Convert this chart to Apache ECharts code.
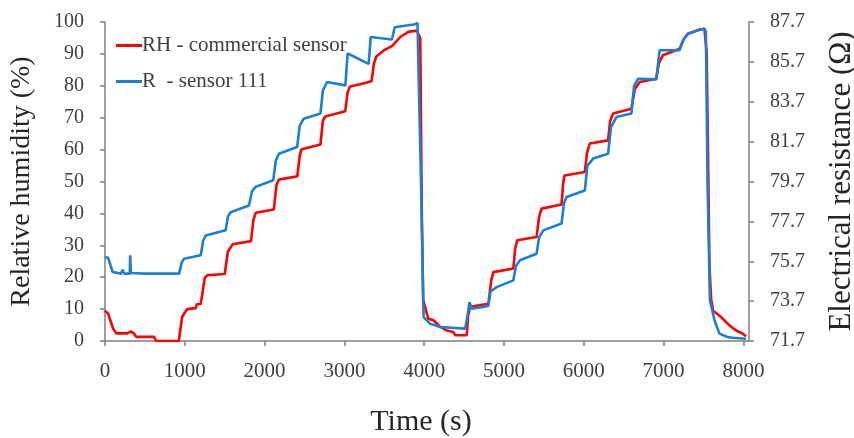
<!DOCTYPE html>
<html>
<head>
<meta charset="utf-8">
<script src="https://cdn.jsdelivr.net/npm/echarts@6/dist/echarts.min.js"></script>
<style>
  html, body { margin: 0; padding: 0; background: #fff; }
  #chart { width: 854px; height: 438px; }
</style>
</head>
<body>
<div id="chart"></div>
<script>
// time (s), relative humidity (%)
var rhTime = [0, 40, 100, 140, 280, 300, 325, 360, 390, 615, 640, 925, 966, 1030, 1138, 1150, 1200, 1250, 1280, 1500,
  1540, 1600, 1830, 1860, 1890, 2115, 2150, 2180, 2410, 2440, 2460, 2600, 2700, 2730, 2760, 3010, 3040, 3070, 3200, 3340,
  3370, 3400, 3500, 3600, 3700, 3800, 3908, 3950, 3970, 3987, 4050, 4117, 4200, 4283, 4367, 4390, 4533,
  4550, 4575, 4804, 4840, 4867, 5117, 5140, 5167, 5408, 5440, 5471, 5721, 5740, 5758, 6013, 6040, 6075, 6304,
  6330, 6367, 6596, 6640, 6700, 6908, 6940, 6992, 7200, 7250, 7304, 7450, 7512, 7540, 7575, 7596, 7621, 7721,
  7825, 7908, 7992, 8033];
var rhValue = [9.5, 8.5, 4, 2.4, 2.4, 2.0, 3.0, 2.4, 1.3, 1.3, 0, 0, 7.5, 10, 10.3, 11.5, 11.6, 19.8, 20.6, 21.0,
  28, 30.3, 31.3, 38, 40.2, 41.2, 49, 50.6, 51.6, 58, 60.0, 61.0, 61.6, 69, 70.4, 72, 78, 79.8, 80.5, 81.4,
  87, 89.2, 91.2, 92.5, 95.3, 96.9, 97.3, 95, 40, 13, 7, 6.5, 4.4, 3.3, 2.8, 1.8, 1.8,
  8, 10.7, 11.7, 19, 21.6, 22.7, 29, 31.6, 32.6, 39, 41.5, 42.8, 49, 51.9, 53.0, 59, 61.9, 62.9,
  69, 71.3, 72.8, 79, 81.2, 82.2, 87, 89.6, 91.6, 94.5, 96.3, 97.6, 97.9, 90, 23.5, 12.9, 9.5, 7.5,
  4.9, 3.3, 2.3, 1.5];

// time (s), electrical resistance (ohm) of sensor 111
var rTime = [0, 40, 96, 200, 221, 240, 310, 316, 324, 500, 929, 960, 991, 1200, 1230, 1263, 1512, 1540, 1575, 1804,
  1840, 1887, 2108, 2140, 2179, 2408, 2440, 2491, 2700, 2730, 2783, 3012, 3040, 3050, 3304, 3330, 3596, 3630, 3888, 3916,
  3930, 3960, 3992, 4075, 4200, 4513, 4540, 4567, 4596, 4804, 4830, 4908, 5117, 5150, 5200, 5408, 5440, 5492, 5721,
  5750, 5783, 6013, 6045, 6117, 6304, 6340, 6408, 6596, 6630, 6679, 6908, 6940, 6950, 7200, 7250, 7304, 7450, 7512,
  7530, 7550, 7580, 7637, 7700, 7800, 7867, 8033];
var rValue = [75.91, 75.86, 75.16, 75.08, 75.27, 75.08, 75.08, 76.0, 75.11, 75.08, 75.08, 75.62, 75.83, 76.0, 76.74, 76.99, 77.25, 77.94, 78.16, 78.5,
  79.19, 79.43, 79.76, 80.74, 81.09, 81.43, 82.5, 82.85, 83.11, 84.26, 84.69, 84.52, 86.12, 86.12, 85.6, 86.95, 86.82, 87.44, 87.59, 87.65,
  85.0, 79.7, 72.9, 72.56, 72.4, 72.32, 72.9, 73.65, 73.32, 73.46, 74.18, 74.4, 74.74, 75.46, 75.75, 76.08, 76.9, 77.25, 77.59,
  78.58, 78.92, 79.25, 80.5, 80.85, 81.09, 82.42, 82.93, 83.11, 84.5, 84.85, 84.82, 85.94, 86.28, 86.28, 86.82, 87.11, 87.32, 87.36,
  87.22, 79.7, 73.76, 72.74, 72.07, 71.9, 71.86, 71.81];

var timeTicks = [0, 1000, 2000, 3000, 4000, 5000, 6000, 7000, 8000];
var ohmTicks = [71.7, 73.7, 75.7, 77.7, 79.7, 81.7, 83.7, 85.7, 87.7];

function pairs(xs, ys) {
  return xs.map(function (x, i) { return [x, ys[i]]; });
}

var font = 'Liberation Serif';
var axisColor = '#7f7f7f';
var chart = echarts.init(document.getElementById('chart'));

chart.setOption({
  animation: false,
  textStyle: { fontFamily: font },
  grid: { left: 105, right: 105, top: 22, bottom: 97, outerBoundsMode: 'none' },
  legend: {
    left: 111,
    top: 30,
    orient: 'vertical',
    icon: 'rect',
    itemWidth: 26,
    itemHeight: 3,
    itemGap: 15,
    textStyle: { fontFamily: font, fontSize: 21, color: '#404040', padding: [0, 0, 0, -5] },
    data: ['RH - commercial sensor', 'R  - sensor 111']
  },
  xAxis: {
    type: 'value',
    min: 0,
    max: 8070,
    name: 'Time (s)',
    nameLocation: 'middle',
    nameGap: 66,
    nameTextStyle: { fontFamily: font, fontSize: 30, color: '#262626', padding: [0, 12, 0, 0] },
    splitLine: { show: false },
    axisLine: { lineStyle: { color: axisColor, width: 1.5 } },
    axisTick: { customValues: timeTicks, length: 5, lineStyle: { color: axisColor, width: 1.5 } },
    axisLabel: {
      customValues: timeTicks, margin: 20, fontSize: 21, color: '#404040',
      formatter: function (v) { return String(v); }
    }
  },
  yAxis: [
    {
      type: 'value',
      min: 0,
      max: 100,
      interval: 10,
      name: 'Relative humidity (%)',
      nameLocation: 'middle',
      nameGap: 69,
      nameTextStyle: { fontFamily: font, fontSize: 28, color: '#262626' },
      splitLine: { show: false },
      axisLine: { show: true, lineStyle: { color: axisColor, width: 1.5 } },
      axisTick: { show: true, length: 5, lineStyle: { color: axisColor, width: 1.5 } },
      axisLabel: { margin: 21, fontSize: 20, color: '#404040' }
    },
    {
      type: 'value',
      min: 71.7,
      max: 87.7,
      position: 'right',
      name: 'Electrical resistance (Ω)',
      nameLocation: 'middle',
      nameGap: 77,
      nameRotate: 90,
      nameTextStyle: { fontFamily: font, fontSize: 31, color: '#262626' },
      splitLine: { show: false },
      axisLine: { show: true, lineStyle: { color: axisColor, width: 1.5 } },
      axisTick: { show: true, customValues: ohmTicks, length: 5, lineStyle: { color: axisColor, width: 1.5 } },
      axisLabel: {
        customValues: ohmTicks, margin: 21, fontSize: 20, color: '#404040',
        formatter: function (v) { return v.toFixed(1); }
      }
    }
  ],
  series: [
    {
      name: 'RH - commercial sensor',
      type: 'line',
      yAxisIndex: 0,
      showSymbol: false,
      z: 2,
      itemStyle: { color: '#ff0000' },
      lineStyle: { color: '#ff0000', width: 2.6 },
      data: pairs(rhTime, rhValue)
    },
    {
      name: 'R  - sensor 111',
      type: 'line',
      yAxisIndex: 1,
      showSymbol: false,
      z: 3,
      itemStyle: { color: '#1b7fd2' },
      lineStyle: { color: '#1b7fd2', width: 2.6 },
      data: pairs(rTime, rValue)
    }
  ]
});
</script>
</body>
</html>
